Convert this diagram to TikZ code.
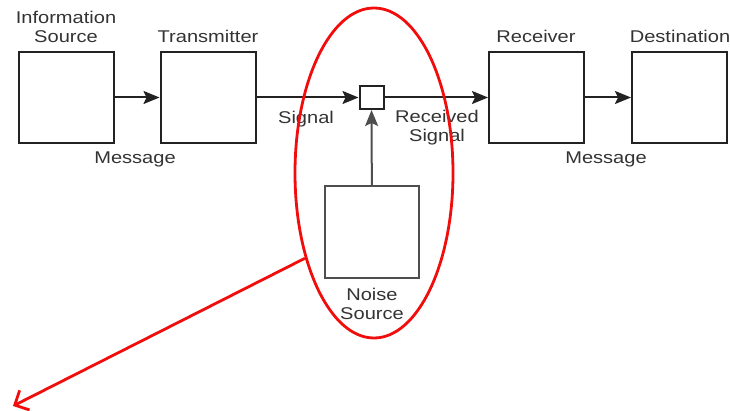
\documentclass[tikz,border=0pt]{standalone}
\usepackage{fontspec}
\setmainfont{Liberation Sans}[FakeStretch=1.18]
\usetikzlibrary{arrows.meta,shapes.geometric}
\definecolor{ink}{HTML}{222222}
\definecolor{txt}{HTML}{333333}
\definecolor{hred}{HTML}{F20D0D}
\begin{document}
\begin{tikzpicture}[x=1pt,y=-1pt,
  blk/.style={draw=ink,line width=2pt,minimum width=95pt,minimum height=91pt,inner sep=0pt},
  sq/.style={draw=ink,line width=2pt,minimum width=24pt,minimum height=23pt,inner sep=0pt},
  lbl/.style={text=txt,font=\fontsize{17}{19}\selectfont,inner sep=0pt,align=center},
  flow/.style={draw=ink,line width=2pt,-{Stealth[length=16pt,width=13pt,inset=3pt]}},
  hl/.style={draw=hred,line width=2.8pt,ellipse,minimum width=158pt,minimum height=330pt,inner sep=0pt},
  harrow/.style={draw=hred,line width=2.8pt,-{Straight Barb[length=11pt,width=22pt]}}
]
\useasboundingbox (0,0) rectangle (730,411);
% blocks
\node[blk] (src) at (66.5,97.5) {};
\node[blk] (tx) at (208,97.5) {};
\node[sq] (mix) at (371.5,97.5) {};
\node[blk] (rx) at (536.5,97.5) {};
\node[blk] (dst) at (679.5,97.5) {};
\node[blk,minimum width=94pt,minimum height=92pt,draw=ink!80] (noise) at (372,232) {};
% connectors
\draw[flow] (src) -- (tx);
\draw[flow] (tx) -- (mix);
\draw[flow] (mix) -- (rx);
\draw[flow] (rx) -- (dst);
\draw[flow,draw=ink!80] (noise) -- (mix);
% labels
\node[lbl,anchor=north] (lsrc) at (66,11) {Information\\Source};
\node[lbl,anchor=base] (ltx) at (208,43) {Transmitter};
\node[lbl,anchor=base] (lrx) at (536,43) {Receiver};
\node[lbl,anchor=base] (ldst) at (680,43) {Destination};
\node[lbl,anchor=base] (lm1) at (135,164) {Message};
\node[lbl,anchor=base] (lm2) at (606,164) {Message};
\node[lbl,anchor=base] (lsig) at (306,124) {Signal};
\node[lbl,anchor=north] (lrs) at (437,110) {Received\\Signal};
\node[lbl,anchor=north] (lns) at (372,288) {Noise\\Source};
% highlight
\node[hl] (ring) at (374,173) {};
\coordinate (far) at (13,406);
\draw[harrow] (ring.231) -- (far);
\end{tikzpicture}
\end{document}
